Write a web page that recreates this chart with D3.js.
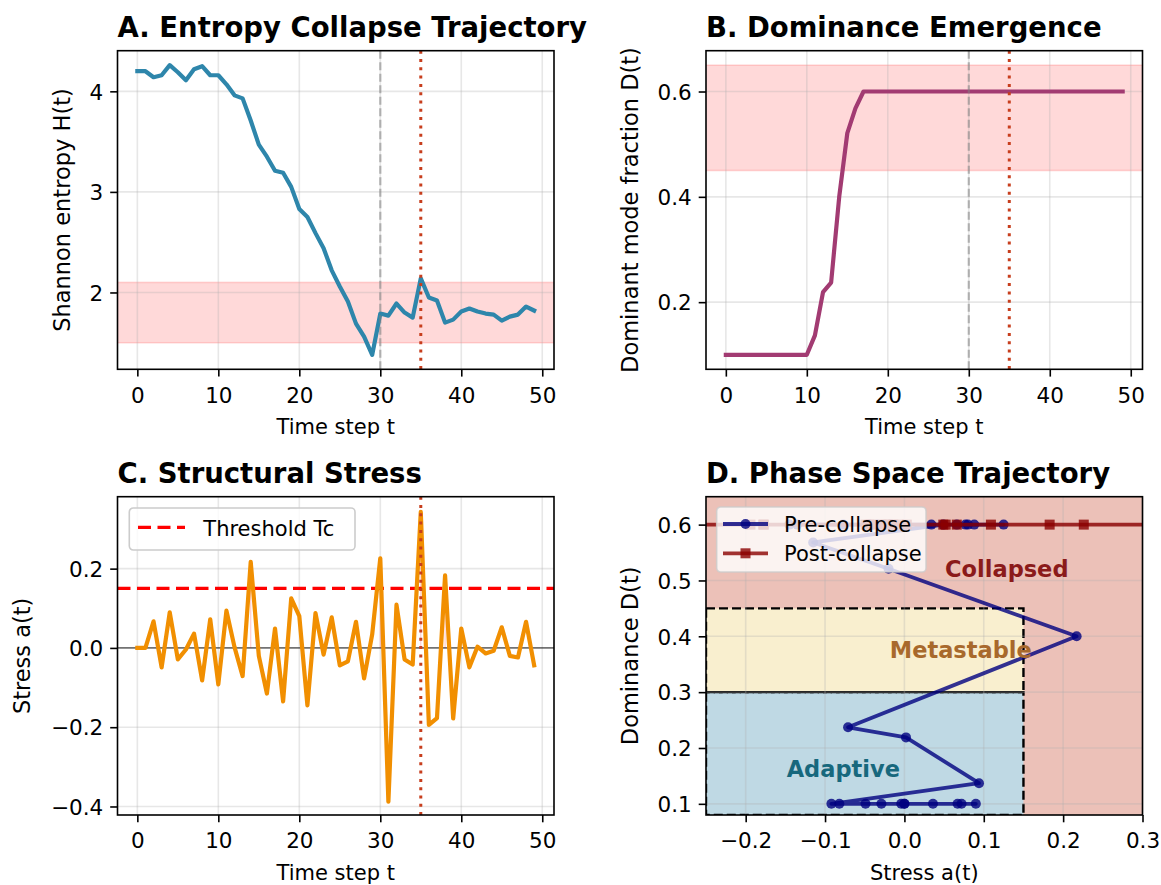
<!DOCTYPE html>
<html>
<head>
<meta charset="utf-8">
<script src="https://cdn.jsdelivr.net/npm/d3@7"></script>
<style>
  body { margin: 0; background: #fff; }
  svg text { font-family: "DejaVu Sans", sans-serif; fill: #000; }
</style>
</head>
<body>
<div id="chart"></div>
<script>

// ---- data ----

// Shannon entropy H(t), t = 0..49
const entropy = [
  4.20, 4.20, 4.14, 4.16, 4.26, 4.19, 4.11, 4.22, 4.25, 4.16,
  4.16, 4.07, 3.96, 3.93, 3.71, 3.47, 3.35, 3.21, 3.19, 3.05,
  2.83, 2.75, 2.59, 2.44, 2.22, 2.06, 1.91, 1.69, 1.56, 1.38,
  1.79, 1.77, 1.89, 1.80, 1.75, 2.14, 1.95, 1.92, 1.70, 1.73,
  1.81, 1.84, 1.81, 1.79, 1.78, 1.72, 1.76, 1.78, 1.86, 1.82
];

// dominant mode fraction D(t)
const dominance = [
  0.1, 0.1, 0.1, 0.1, 0.1, 0.1, 0.1, 0.1, 0.1, 0.1,
  0.1, 0.137, 0.219, 0.237, 0.40, 0.521, 0.568, 0.6, 0.6, 0.6,
  0.6, 0.6, 0.6, 0.6, 0.6, 0.6, 0.6, 0.6, 0.6, 0.6,
  0.6, 0.6, 0.6, 0.6, 0.6, 0.6, 0.6, 0.6, 0.6, 0.6,
  0.6, 0.6, 0.6, 0.6, 0.6, 0.6, 0.6, 0.6, 0.6, 0.6
];

// structural stress a(t)
const stress = [
  0.000, 0.000, 0.067, -0.049, 0.090, -0.029, -0.004, 0.036, -0.082, 0.072,
  -0.092, 0.094, 0.002, -0.071, 0.217, -0.020, -0.115, 0.049, -0.135, 0.125,
  0.080, -0.145, 0.088, -0.017, 0.077, -0.044, -0.034, 0.066, -0.077, 0.034,
  0.226, -0.388, 0.109, -0.029, -0.042, 0.343, -0.194, -0.177, 0.183, -0.178,
  0.049, -0.049, 0.003, -0.014, -0.007, 0.052, -0.020, -0.024, 0.066, -0.044
];

const collapseStart = 30;        // gray dashed marker, pre/post split in D
const collapsePoint = 35;        // red dotted marker
const thresholdTc = 0.15;
const entropyBand = [1.5, 2.1];
const dominanceBand = [0.45, 0.65];

const timeTicks = [0, 10, 20, 30, 40, 50];
const entropyTicks = [2, 3, 4];
const dominanceTicks = [0.2, 0.4, 0.6];
const stressTicks = [-0.4, -0.2, 0.0, 0.2];
const phaseXTicks = [-0.2, -0.1, 0.0, 0.1, 0.2, 0.3];
const phaseYTicks = [0.1, 0.2, 0.3, 0.4, 0.5, 0.6];

// phase regions
const regionNames = ["Adaptive", "Metastable", "Collapsed"];
const regionStressMax = 0.15;
const regionBounds = [[0.08, 0.3], [0.3, 0.45]];

// ---- layout ----
const width = 1161;
const height = 885;
const tickFont = 21.5;
const labelFont = 21;
const yLabelFont = 22.5;
const colors = {blue: "#2E86AB", magenta: "#A23B72", orange: "#F18F01", red: "#C73E1D"};

const svg = d3.select("#chart").append("svg")
  .attr("width", width)
  .attr("height", height);

svg.append("rect").attr("width", width).attr("height", height).attr("fill", "#fff");
const defs = svg.append("defs");

const boxes = {
  A: {left: 117.5, top: 50.7, w: 436.5, h: 318.6},
  B: {left: 706, top: 50.7, w: 436.5, h: 318.6},
  C: {left: 117.5, top: 496.7, w: 436.5, h: 318.3},
  D: {left: 706, top: 496.7, w: 436.5, h: 318.3}
};

// creates the layered groups and scales for one subplot
function makePanel(id, xDomain, yDomain) {
  const b = boxes[id];
  const g = svg.append("g").attr("transform", `translate(${b.left},${b.top})`);
  defs.append("clipPath").attr("id", "clip" + id)
    .append("rect").attr("width", b.w).attr("height", b.h);
  return {
    b: b,
    x: d3.scaleLinear().domain(xDomain).range([0, b.w]),
    y: d3.scaleLinear().domain(yDomain).range([b.h, 0]),
    bg: g.append("g").attr("clip-path", `url(#clip${id})`),
    grid: g.append("g"),
    plot: g.append("g").attr("clip-path", `url(#clip${id})`),
    top: g.append("g")
  };
}

// grid, frame, ticks, labels, title
function decorate(p, xTicks, yTicks, xFmt, yFmt, xLabel, yLabel, yLabelGap, title) {
  const w = p.b.w, h = p.b.h;
  p.grid.selectAll(".gx").data(xTicks).join("line")
    .attr("x1", d => p.x(d)).attr("x2", d => p.x(d)).attr("y1", 0).attr("y2", h)
    .attr("stroke", "#b0b0b0").attr("stroke-opacity", 0.3).attr("stroke-width", 1.6);
  p.grid.selectAll(".gy").data(yTicks).join("line")
    .attr("y1", d => p.y(d)).attr("y2", d => p.y(d)).attr("x1", 0).attr("x2", w)
    .attr("stroke", "#b0b0b0").attr("stroke-opacity", 0.3).attr("stroke-width", 1.6);

  p.top.append("rect").attr("width", w).attr("height", h)
    .attr("fill", "none").attr("stroke", "#000").attr("stroke-width", 1.6);

  const xa = p.top.append("g").attr("transform", `translate(0,${h})`)
    .call(d3.axisBottom(p.x).tickValues(xTicks).tickFormat(xFmt)
      .tickSize(7.3).tickSizeOuter(0).tickPadding(7));
  const ya = p.top.append("g")
    .call(d3.axisLeft(p.y).tickValues(yTicks).tickFormat(yFmt)
      .tickSize(7.3).tickSizeOuter(0).tickPadding(7));
  [xa, ya].forEach(a => {
    a.select(".domain").remove();
    a.selectAll("line").attr("stroke", "#000").attr("stroke-width", 1.6);
    a.selectAll("text").attr("font-size", tickFont).attr("font-family", "DejaVu Sans").attr("fill", "#000");
  });
  xa.selectAll("text").attr("dy", "0.88em");
  ya.selectAll("text").attr("dy", "0.36em");

  p.top.append("text").attr("x", w / 2).attr("y", h + 65)
    .attr("text-anchor", "middle").attr("font-size", labelFont).text(xLabel);
  p.top.append("text")
    .attr("transform", `translate(${-yLabelGap},${h / 2}) rotate(-90)`)
    .attr("text-anchor", "middle").attr("font-size", yLabelFont).text(yLabel);
  p.top.append("text").attr("x", 0).attr("y", -14)
    .attr("font-size", 27.5).attr("font-weight", "bold").text(title);
}

function vline(p, t, kind) {
  const l = p.plot.append("line")
    .attr("x1", p.x(t)).attr("x2", p.x(t)).attr("y1", 0).attr("y2", p.b.h);
  if (kind === "gray") {
    l.attr("stroke", "#808080").attr("stroke-opacity", 0.55)
     .attr("stroke-width", 2.2).attr("stroke-dasharray", "8,3.5");
  } else {
    l.attr("stroke", colors.red).attr("stroke-width", 3).attr("stroke-dasharray", "3,5.3");
  }
}

function band(p, lo, hi) {
  p.bg.append("rect")
    .attr("x", -5).attr("width", p.b.w + 10)
    .attr("y", p.y(hi)).attr("height", p.y(lo) - p.y(hi))
    .attr("fill", "red").attr("fill-opacity", 0.15)
    .attr("stroke", "red").attr("stroke-opacity", 0.15).attr("stroke-width", 1.6);
}

function series(p, values, color) {
  p.plot.append("path")
    .datum(values)
    .attr("fill", "none").attr("stroke", color).attr("stroke-width", 4.2)
    .attr("stroke-linejoin", "round").attr("stroke-linecap", "square")
    .attr("d", d3.line().x((d, i) => p.x(i)).y(d => p.y(d)));
}

const tDomain = [-2.45, 51.45];
const fmtInt = d3.format("d");
const fmt1 = d3.format(".1f");

/* A. entropy */
const pA = makePanel("A", tDomain, [1.236, 4.404]);
band(pA, entropyBand[0], entropyBand[1]);
series(pA, entropy, colors.blue);
vline(pA, collapseStart, "gray");
vline(pA, collapsePoint, "red");
decorate(pA, timeTicks, entropyTicks, fmtInt, fmtInt,
  "Time step t", "Shannon entropy H(t)", 48, "A. Entropy Collapse Trajectory");

/* B. dominance */
const pB = makePanel("B", tDomain, [0.0725, 0.6775]);
band(pB, dominanceBand[0], dominanceBand[1]);
series(pB, dominance, colors.magenta);
vline(pB, collapseStart, "gray");
vline(pB, collapsePoint, "red");
decorate(pB, timeTicks, dominanceTicks, fmtInt, fmt1,
  "Time step t", "Dominant mode fraction D(t)", 68, "B. Dominance Emergence");

/* C. stress */
const pC = makePanel("C", tDomain, [-0.4215, 0.3815]);
pC.plot.append("line").attr("x1", 0).attr("x2", pC.b.w)
  .attr("y1", pC.y(0)).attr("y2", pC.y(0))
  .attr("stroke", "#000").attr("stroke-opacity", 0.5).attr("stroke-width", 1.6);
// faint fill where stress exceeds the threshold (single points only)
pC.plot.selectAll(".over").data(stress.map((v, i) => [i, v]).filter(d => d[1] > thresholdTc))
  .join("line")
  .attr("x1", d => pC.x(d[0])).attr("x2", d => pC.x(d[0]))
  .attr("y1", pC.y(0)).attr("y2", d => pC.y(d[1]))
  .attr("stroke", "red").attr("stroke-opacity", 0.2).attr("stroke-width", 1.2);
pC.plot.append("line").attr("x1", 0).attr("x2", pC.b.w)
  .attr("y1", pC.y(thresholdTc)).attr("y2", pC.y(thresholdTc))
  .attr("stroke", "red").attr("stroke-width", 3.3).attr("stroke-dasharray", "13,6.5");
series(pC, stress, colors.orange);
vline(pC, collapsePoint, "red");
decorate(pC, timeTicks, stressTicks, fmtInt, fmt1,
  "Time step t", "Stress a(t)", 88, "C. Structural Stress");

// legend for C
const legC = pC.top.append("g").attr("transform", "translate(11.8,11.3)");
legC.append("rect").attr("width", 225.7).attr("height", 42).attr("rx", 4)
  .attr("fill", "#fff").attr("fill-opacity", 0.8)
  .attr("stroke", "#cccccc").attr("stroke-width", 1.6);
legC.append("line").attr("x1", 8.7).attr("x2", 55.7).attr("y1", 19.3).attr("y2", 19.3)
  .attr("stroke", "red").attr("stroke-width", 3.3).attr("stroke-dasharray", "13,6.5");
legC.append("text").attr("x", 74).attr("y", 27.5).attr("font-size", labelFont).text("Threshold Tc");

/* D. phase space */
const pD = makePanel("D", [-0.25, 0.3], [0.08, 0.65]);
pD.bg.append("rect").attr("width", pD.b.w).attr("height", pD.b.h).attr("fill", "#ecc1b8");
const regionFill = ["#bfd9e4", "#f9efcf"];
regionBounds.forEach((r, i) => {
  pD.bg.append("rect")
    .attr("x", pD.x(-0.25)).attr("width", pD.x(regionStressMax) - pD.x(-0.25))
    .attr("y", pD.y(r[1])).attr("height", pD.y(r[0]) - pD.y(r[1]))
    .attr("fill", regionFill[i]);
});
regionBounds.forEach(r => {
  pD.bg.append("rect")
    .attr("x", pD.x(-0.25)).attr("width", pD.x(regionStressMax) - pD.x(-0.25))
    .attr("y", pD.y(r[1])).attr("height", pD.y(r[0]) - pD.y(r[1]))
    .attr("fill", "none").attr("stroke", "#000").attr("stroke-width", 2.4)
    .attr("stroke-dasharray", "9,4");
});

const points = stress.map((s, i) => ({s: s, d: dominance[i], t: i}));
const pre = points.filter(p => p.t < collapseStart);
const post = points.filter(p => p.t >= collapseStart);
const phaseLine = d3.line().x(p => pD.x(p.s)).y(p => pD.y(p.d));

pD.plot.append("path").datum(pre).attr("d", phaseLine)
  .attr("fill", "none").attr("stroke", "#000080").attr("stroke-opacity", 0.8)
  .attr("stroke-width", 3.8).attr("stroke-linejoin", "round");
pD.plot.selectAll(".pre").data(pre).join("circle")
  .attr("cx", p => pD.x(p.s)).attr("cy", p => pD.y(p.d)).attr("r", 5)
  .attr("fill", "#000080").attr("fill-opacity", 0.8);

pD.plot.append("path").datum(post).attr("d", phaseLine)
  .attr("fill", "none").attr("stroke", "#8b0000").attr("stroke-opacity", 0.8)
  .attr("stroke-width", 3.8).attr("stroke-linejoin", "round");
pD.plot.selectAll(".post").data(post).join("rect")
  .attr("x", p => pD.x(p.s) - 5).attr("y", p => pD.y(p.d) - 5)
  .attr("width", 10).attr("height", 10)
  .attr("fill", "#8b0000").attr("fill-opacity", 0.8);

// region labels
const regionLabelPos = [[-0.077, 0.163], [0.071, 0.375], [0.129, 0.52]];
const regionLabelColor = ["#17687d", "#a8692c", "#8b1a1a"];
regionNames.forEach((n, i) => {
  pD.plot.append("text")
    .attr("x", pD.x(regionLabelPos[i][0])).attr("y", pD.y(regionLabelPos[i][1]) + 8)
    .attr("text-anchor", "middle").attr("font-size", 22.5).attr("font-weight", "bold")
    .style("fill", regionLabelColor[i]).text(n);
});

decorate(pD, phaseXTicks, phaseYTicks, fmt1, fmt1,
  "Stress a(t)", "Dominance D(t)", 68, "D. Phase Space Trajectory");

// legend for D
const legD = pD.top.append("g").attr("transform", "translate(10.7,10.3)");
legD.append("rect").attr("width", 209.3).attr("height", 65).attr("rx", 4)
  .attr("fill", "#fff").attr("fill-opacity", 0.8)
  .attr("stroke", "#cccccc").attr("stroke-opacity", 0.8).attr("stroke-width", 1.6);
const legEntries = [["Pre-collapse", "#000080", "circle"], ["Post-collapse", "#8b0000", "square"]];
legEntries.forEach((e, i) => {
  const yy = 17 + i * 29.3;
  legD.append("line").attr("x1", 6.3).attr("x2", 51.3).attr("y1", yy).attr("y2", yy)
    .attr("stroke", e[1]).attr("stroke-opacity", 0.8).attr("stroke-width", 3.8);
  if (e[2] === "circle") {
    legD.append("circle").attr("cx", 28.8).attr("cy", yy).attr("r", 5)
      .attr("fill", e[1]).attr("fill-opacity", 0.8);
  } else {
    legD.append("rect").attr("x", 23.8).attr("y", yy - 5).attr("width", 10).attr("height", 10)
      .attr("fill", e[1]).attr("fill-opacity", 0.8);
  }
  legD.append("text").attr("x", 67.3).attr("y", yy + 7.5).attr("font-size", labelFont).text(e[0]);
});

</script>
</body>
</html>
